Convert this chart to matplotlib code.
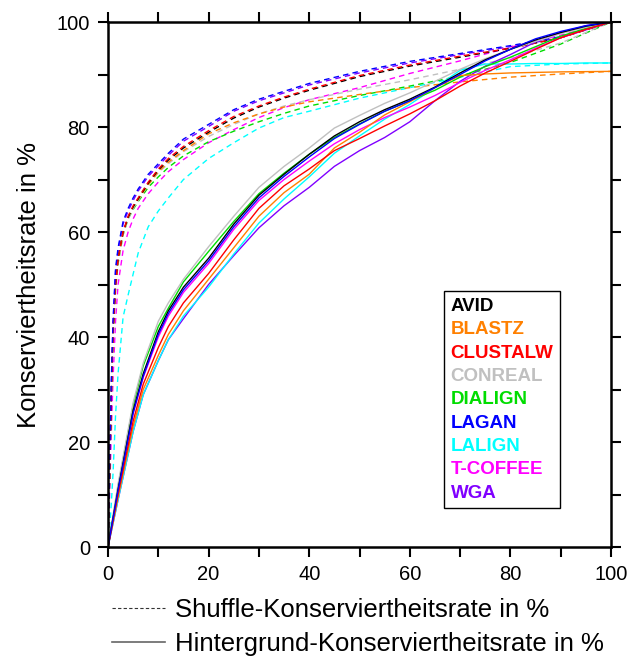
import matplotlib.pyplot as plt
from matplotlib.lines import Line2D
from matplotlib.ticker import MultipleLocator

plt.rcParams['font.family'] = ['Liberation Sans', 'DejaVu Sans']

methods = ['AVID', 'BLASTZ', 'CLUSTALW', 'CONREAL', 'DIALIGN', 'LAGAN', 'LALIGN', 'T-COFFEE', 'WGA']
colors = ['#000000', '#FF8000', '#FF0000', '#C0C0C0', '#00DD00', '#0000FF', '#00FFFF', '#FF00FF', '#8000FF']

# background conservation rate (solid)
x_bg = [0, 2, 5, 7, 10, 12, 15, 20, 25, 30, 35, 40, 45, 50, 55, 60, 65, 70, 75, 80, 85, 90, 95, 100]
bg = {
    'AVID':     [0, 11, 26, 33, 41, 45, 49.5, 55, 61.5, 67, 71, 74.8, 78.3, 81, 83.3, 85.3, 87.6, 90.3, 92.8, 94.8, 96.6, 98, 99.2, 100],
    'BLASTZ':   [0, 9.5, 23, 30, 36.5, 40.5, 45, 51, 57, 63, 67.5, 71, 76, 79, 82.3, 84.8, 87.5, 89.8, 90.1, 90.3, 90.4, 90.5, 90.55, 90.6],
    'CLUSTALW': [0, 10, 24, 31, 38, 42, 46.5, 52.1, 58.5, 64.5, 68.8, 72, 75.5, 77.8, 80.2, 82.5, 85, 87.8, 90.3, 92.5, 94.8, 97, 98.6, 100],
    'CONREAL':  [0, 12, 27.5, 35, 43, 46.5, 51, 57.2, 63, 68.5, 72.5, 76, 79.8, 82.2, 84.5, 86.5, 88.7, 91, 93, 94.8, 96.3, 97.8, 99, 100],
    'DIALIGN':  [0, 11.5, 27, 34.5, 42, 45.5, 50.5, 56.3, 62, 67.3, 71.2, 74.8, 78, 80.6, 83, 85, 87, 89.5, 91.5, 93.3, 95.3, 97.3, 98.8, 100],
    'LAGAN':    [0, 10.8, 25.5, 32.5, 40.5, 44.5, 49, 54.5, 61, 66.5, 70.6, 74.3, 77.8, 80.5, 83, 85, 87.5, 90, 92.6, 94.8, 96.8, 98.2, 99.3, 100],
    'LALIGN':   [0, 9, 22, 29, 35.5, 39.5, 44, 49.5, 55.8, 61.7, 66.3, 70.5, 75, 78.3, 81.5, 84.3, 87.5, 90.8, 92, 92, 92.1, 92.1, 92.2, 92.2],
    'T-COFFEE': [0, 10.5, 25.5, 32.3, 40, 44, 48.5, 54, 60.5, 66, 70, 73.5, 76.8, 79.5, 81.8, 83.8, 86, 88.5, 90.8, 92.8, 95, 97, 98.6, 100],
    'WGA':      [0, 9, 22, 29, 35.5, 39.5, 43.5, 50, 55.5, 60.8, 65, 68.5, 72.5, 75.5, 78, 81, 85, 88.7, 91.6, 93.8, 96.2, 98, 99.3, 100],
}

# shuffle conservation rate (dashed)
x_sh = [0, 0.3, 0.7, 1, 1.5, 2, 3, 4, 5, 6, 8, 10, 12, 15, 20, 25, 30, 35, 40, 50, 60, 70, 80, 90, 100]
sh = {
    'AVID':     [0, 13, 31, 41, 50, 55, 60, 62.8, 64.8, 66.3, 69.3, 71.8, 73.7, 76, 79, 81.7, 83.8, 85.5, 87, 89.6, 91.6, 93.3, 95, 97, 100],
    'BLASTZ':   [0, 12.5, 30.5, 40.5, 49.5, 54.5, 60, 62.8, 64.8, 66.2, 69, 71.5, 73.3, 75.5, 78.7, 80.8, 82.5, 83.8, 84.8, 86.2, 87.5, 88.6, 89.5, 90.1, 90.6],
    'CLUSTALW': [0, 13, 31, 41, 50, 55, 60, 63, 65, 66.5, 69.5, 72, 74, 76.3, 79.3, 82, 84, 85.7, 87.2, 89.8, 91.8, 93.5, 95, 97, 100],
    'CONREAL':  [0, 12.5, 30.5, 40, 49, 54, 59.5, 62.5, 64.5, 66, 69, 71.3, 73, 75.3, 78.2, 80.5, 82.5, 84, 85.2, 87.2, 89, 91, 93.2, 96, 100],
    'DIALIGN':  [0, 12.5, 30.5, 40, 49, 54, 59.5, 62.5, 64.3, 65.8, 68.5, 70.5, 72.3, 74.5, 77.2, 79.2, 81, 82.6, 84, 86, 87.8, 89.7, 92.3, 95.8, 100],
    'LAGAN':    [0, 15, 33, 43, 53, 57, 62, 64.5, 66.5, 68.2, 71, 73, 75, 77.7, 80.5, 83.3, 85.3, 86.8, 88.3, 90.6, 92.5, 94, 95.5, 97.2, 100],
    'LALIGN':   [0, 3, 9, 14, 25, 33, 43.8, 48, 52, 56, 61, 64, 66.5, 70, 74, 77, 79.8, 81.8, 83, 85.5, 87.5, 89.5, 91.5, 92, 92.2],
    'T-COFFEE': [0, 9, 23, 32, 43, 50, 56.5, 60, 62.5, 64.5, 67.3, 69.5, 71.5, 73.8, 77, 79.5, 81.8, 83.7, 85.2, 87.5, 90.2, 92.6, 95.2, 97.5, 100],
    'WGA':      [0, 14.5, 32.5, 42.5, 52.5, 56.5, 61.5, 64, 66, 67.8, 70.6, 72.6, 74.6, 77.3, 80.1, 83, 85, 86.5, 88, 90.3, 92.2, 93.8, 95.3, 97, 100],
}

fig = plt.figure(figsize=(6.29, 6.57), dpi=100)
ax = fig.add_axes([0.1717, 0.1674, 0.7997, 0.7991])

order = ['WGA', 'LALIGN', 'T-COFFEE', 'DIALIGN', 'CONREAL', 'BLASTZ', 'AVID', 'CLUSTALW', 'LAGAN']
for m in order:
    c = colors[methods.index(m)]
    ax.plot(x_sh, sh[m], color=c, lw=1, linestyle=(0, (4, 3)))
for m in order:
    c = colors[methods.index(m)]
    ax.plot(x_bg, bg[m], color=c, lw=1)

ax.set_xlim(0, 100)
ax.set_ylim(0, 100)
ax.xaxis.set_major_locator(MultipleLocator(20))
ax.xaxis.set_minor_locator(MultipleLocator(10))
ax.yaxis.set_major_locator(MultipleLocator(20))
ax.yaxis.set_minor_locator(MultipleLocator(10))
ax.tick_params(which='both', direction='out', top=True, right=True, width=1.5, length=7, labelsize=14.5, pad=6)
ax.tick_params(labeltop=False, labelright=False)
for s in ax.spines.values():
    s.set_linewidth(1.8)
ax.set_ylabel('Konserviertheitsrate in %', fontsize=18.5, labelpad=11)

# method legend (coloured names)
handles = [Line2D([], [], color=c, lw=0) for c in colors]
leg = ax.legend(handles, methods, loc='lower left', bbox_to_anchor=(0.668, 0.074),
                handlelength=0, handletextpad=0, labelcolor=colors,
                prop={'weight': 'bold', 'size': 13.5}, frameon=True, fancybox=False,
                edgecolor='black', framealpha=1, borderpad=0.35, labelspacing=0.33,
                borderaxespad=0)
leg.get_frame().set_linewidth(1.0)

# line style legend
lh = [Line2D([], [], color='#333333', lw=0.8, linestyle=(0, (3, 2))),
      Line2D([], [], color='#666666', lw=1.2)]
fig.legend(lh, ['Shuffle-Konserviertheitsrate in %', 'Hintergrund-Konserviertheitsrate in %'],
           loc='upper left', bbox_to_anchor=(112 / 629, 1 - 598 / 657), frameon=False,
           fontsize=18.5, handlelength=2.06, handletextpad=0.39, labelspacing=0.38,
           borderpad=0, borderaxespad=0)

fig.savefig('out.png', dpi=100)
